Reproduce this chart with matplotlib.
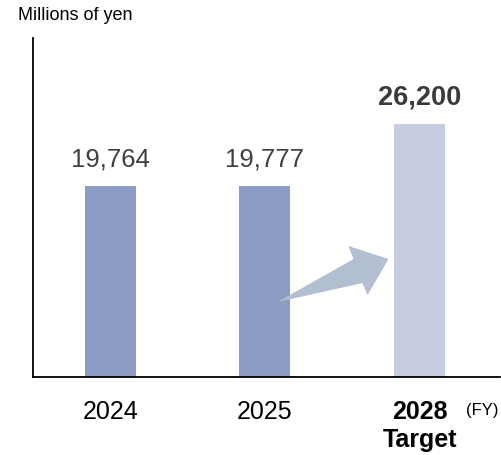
import matplotlib.pyplot as plt
from matplotlib.patches import Polygon

plt.rcParams['font.family'] = ['Liberation Sans', 'DejaVu Sans']

years = ["2024", "2025", "2028"]
tick_labels = ["2024", "2025", "2028\nTarget"]
values = [19764, 19777, 26200]
colors = ["#8c9cc4", "#8c9cc4", "#c6cce1"]

fig = plt.figure(figsize=(5.01, 4.55), dpi=100)
ax = fig.add_axes([33 / 501, 78 / 455, 467 / 501, 339 / 455])

x = range(len(years))
ax.bar(x, values, width=0.33, color=colors, zorder=2)

ax.set_xlim(-0.5, 2.52)
ax.set_ylim(0, 35100)

for i, v in enumerate(values):
    bold = i == 2
    ax.annotate(f"{v:,}", (i, v), xytext=(0, 10.5 if not bold else 9.5), textcoords="offset points",
                ha="center", va="bottom",
                fontsize=19.5 if bold else 18.5,
                fontweight="bold" if bold else "normal",
                color="#3a3a3a" if bold else "#404040")

# arrow from 2025 toward target bar
arrow = Polygon([(1.081, 7764), (1.573, 12215), (1.540, 13561), (1.799, 12215),
                 (1.663, 8489), (1.631, 9731)],
                closed=True, facecolor="#b1bfd0", edgecolor="none", zorder=3)
ax.add_patch(arrow)

ax.set_xticks(list(x))
ax.set_xticklabels(tick_labels, fontsize=18, color="black")
ax.get_xticklabels()[2].set_fontweight("bold")
ax.tick_params(axis="x", length=0, pad=16.5)
ax.set_yticks([])

for s in ["top", "right"]:
    ax.spines[s].set_visible(False)
for s in ["left", "bottom"]:
    ax.spines[s].set_linewidth(1.3)
    ax.spines[s].set_color("black")

fig.text(18 / 501, 1 - 16 / 455, "Millions of yen", fontsize=13, va="center", ha="left")
fig.text(466 / 501, 1 - 410 / 455, "(FY)", fontsize=12, va="center", ha="left")

fig.savefig("out.png", dpi=100)
